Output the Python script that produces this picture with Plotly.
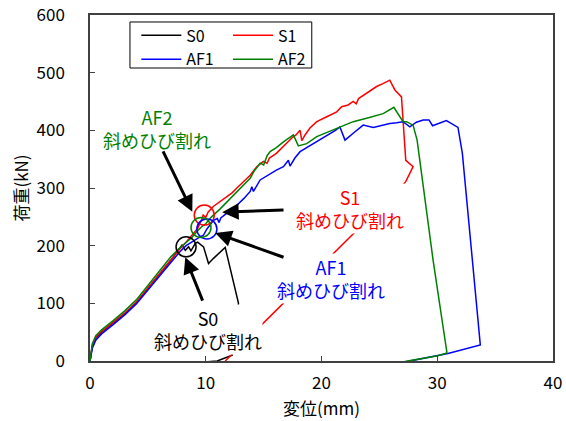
import plotly.graph_objects as go

# ---------------- data ----------------
s0_x = [0, 0.2, 0.5, 1.0, 2.0, 3.0, 4.0, 5.0, 6.0, 7.0, 7.95, 8.23, 8.52, 8.72, 9.1, 9.3, 9.81, 10.24, 10.67, 11.68, 12.83, 12.28, 10.99, 9.1]
s0_y = [0, 26, 40, 50, 66, 82, 101, 126, 150, 175, 201, 192, 198, 191, 204, 206, 198, 169, 178, 197, 100, 10, 0, -3]

s1_x = [0, 0.2, 0.5, 1, 2, 3, 4, 5, 6, 7, 7.7, 8.3, 8.9, 9.3, 9.6, 9.78, 10.0, 10.2, 10.65, 11.2, 11.8, 12.3, 12.69,
        13.3, 13.84, 14.41, 14.98, 15.3, 15.5, 16.1, 16.5, 17.0, 17.5, 17.8, 18.15, 18.3, 18.58, 19.0, 19.59, 20.5,
        21.31, 21.74, 22.3, 22.74, 23.0, 23.2, 23.9, 24.76, 25.3, 25.9, 26.34, 26.91, 27.28, 27.91, 27.28, 12.37, 11.68]
s1_y = [0, 27, 41, 51, 67, 83, 102, 127, 152, 177, 193, 206, 220, 230, 243, 253, 249, 258, 268, 276, 285, 292, 300,
        311, 322, 337, 346, 343, 352, 360, 368, 377, 388, 392, 400, 382, 392, 404, 415, 424,
        432, 441, 444, 450, 446, 455, 464, 476, 481, 487, 470, 458, 348, 337, 311, 12, 0]

af1_x = [0, 0.2, 0.5, 1, 2, 3, 4, 5, 6, 7, 7.7, 8.3, 8.9, 9.4, 9.8, 10.1, 10.67, 11.0, 11.15, 11.3, 11.8, 12.2, 12.69,
         13.3, 13.84, 13.98, 14.12, 14.7, 15.56, 16.1, 16.71, 17.14, 17.28, 17.7, 18.15, 18.9, 19.59, 20.2, 20.73,
         21.2, 21.59, 22.03, 22.74, 23.6, 24.47, 25.2, 25.9, 26.48, 27.05, 27.63, 28.2, 28.78, 29.29, 29.59, 30.79,
         31.79, 32.17, 33.72, 30.93, 27.4]
af1_y = [0, 22, 36, 47, 63, 80, 99, 123, 147, 171, 188, 200, 208, 214, 218, 229, 244, 247, 240, 248, 256, 262, 270,
         282, 294, 302, 294, 314, 325, 331, 337, 348, 338, 352, 363, 372, 380, 388, 395,
         400, 406, 383, 395, 409, 405, 409, 412, 413, 415, 406, 414, 418, 418, 408, 417,
         405, 360, 28, 13, -1]

af2_x = [0, 0.2, 0.5, 1, 2, 3, 4, 5, 6, 7, 7.7, 8.2, 8.8, 9.3, 9.6, 10.0, 10.5, 11.2, 11.9, 12.6, 13.3, 13.84, 14.2,
         14.7, 15.0, 15.3, 15.56, 16.1, 16.71, 17.2, 17.57, 18.0, 18.72, 19.59, 20.59, 21.59, 22.74, 23.9, 25.33,
         26.25, 26.77, 27.05, 27.34, 27.91, 28.26, 28.78, 29.64, 30.84, 30.04, 27.2]
af2_y = [0, 30, 44, 54, 70, 87, 106, 131, 156, 181, 195, 203, 214, 226, 232, 238, 250, 263, 277, 291, 305, 317, 330,
         343, 340, 356, 363, 370, 380, 386, 392, 373, 377, 389, 397, 406, 415, 421, 429,
         440, 424, 415, 415, 409, 383, 302, 175, 14, 9, -1]

series_names = ["S0", "S1", "AF1", "AF2"]
series_colors = ["#000000", "#FF0000", "#0000FF", "#008000"]

# crack markers: centre of each circle (x mm, y kN)
crack_x = [8.3, 9.87, 10.1, 9.59]
crack_y = [198, 253, 229, 231.5]

# annotation texts and centres
label_text = ["S0<br>斜めひび割れ", "S1<br>斜めひび割れ", "AF1<br>斜めひび割れ", "AF2<br>斜めひび割れ"]
label_x = [10.17, 22.46, 20.82, 5.82]
label_y = [55.5, 264.6, 143.4, 403.2]
# arrows: tail -> tip
arrow_tail_x = [9.78, 16.85, 16.85, 6.25]
arrow_tail_y = [102, 262, 179, 366]
arrow_tip_x = [8.23, 11.42, 10.82, 8.84]
arrow_tip_y = [180, 258, 222, 259]

x_ticks = [0, 10, 20, 30, 40]
y_ticks = [0, 100, 200, 300, 400, 500, 600]

FONT = "Noto Sans CJK JP"

fig = go.Figure()
data = [(s0_x, s0_y), (s1_x, s1_y), (af1_x, af1_y), (af2_x, af2_y)]
legends = ["legend", "legend2", "legend", "legend2"]
for (xs, ys), name, col, lg in zip(data, series_names, series_colors, legends):
    fig.add_trace(go.Scatter(x=xs, y=ys, mode="lines", name=name,
                             line=dict(color=col, width=1.5), legend=lg))

shapes = []
# legend frame
shapes.append(dict(type="rect", xref="paper", yref="paper", x0=0.0863, x1=0.479, y0=0.8468, y1=0.9798,
                   line=dict(color="black", width=1), fillcolor="white", layer="above"))
for cx, cy, col in zip(crack_x, crack_y, series_colors):
    shapes.append(dict(type="circle", xref="x", yref="y", xsizemode="pixel", ysizemode="pixel",
                       xanchor=cx, yanchor=cy, x0=-10, x1=10, y0=-10, y1=10,
                       line=dict(color=col, width=1.5), layer="above"))

annotations = []
for t, lx, ly, col in zip(label_text, label_x, label_y, series_colors):
    annotations.append(dict(x=lx, y=ly, xref="x", yref="y", text=t, showarrow=False,
                            font=dict(family=FONT, size=18, color=col), bgcolor="white",
                            borderpad=0, xanchor="center", yanchor="middle"))
for tx, ty, hx, hy in zip(arrow_tail_x, arrow_tail_y, arrow_tip_x, arrow_tip_y):
    annotations.append(dict(x=hx, y=hy, ax=tx, ay=ty, xref="x", yref="y", axref="x", ayref="y",
                            text="", showarrow=True, arrowhead=2, arrowsize=1.1, arrowwidth=3,
                            arrowcolor="black"))

axis_common = dict(showline=True, linecolor="#404040", linewidth=1.5, mirror=True, ticks="inside",
                   ticklen=5, tickcolor="#404040", showgrid=False, zeroline=False, automargin=False,
                   ticklabeloverflow="allow",
                   tickfont=dict(family=FONT, size=17, color="black"))

fig.update_layout(
    width=566, height=421,
    margin=dict(l=89.5, r=12.7, t=15, b=60),
    paper_bgcolor="white", plot_bgcolor="white",
    font=dict(family=FONT, color="black"),
    shapes=shapes, annotations=annotations,
    xaxis=dict(range=[0, 40], tickvals=x_ticks, ticklabelstandoff=6,
               title=dict(text="変位(mm)", font=dict(family=FONT, size=17), standoff=10), **axis_common),
    yaxis=dict(range=[0, 600], tickvals=y_ticks, ticklabelstandoff=20,
               title=dict(text="荷重(kN)", font=dict(family=FONT, size=17), standoff=4), **axis_common),
    legend=dict(x=0.1, y=0.99, xanchor="left", yanchor="top", bgcolor="rgba(0,0,0,0)",
                borderwidth=0, itemwidth=40, font=dict(family=FONT, size=16), tracegroupgap=0),
    legend2=dict(x=0.298, y=0.99, xanchor="left", yanchor="top", bgcolor="rgba(0,0,0,0)",
                 borderwidth=0, itemwidth=40, font=dict(family=FONT, size=16), tracegroupgap=0),
    showlegend=True,
)

# remove the default 8px page margin so the 566x421 figure fills the window exactly
fig.write_html("out.html", config={"displayModeBar": False},
               post_script="document.body.style.margin='0';")
